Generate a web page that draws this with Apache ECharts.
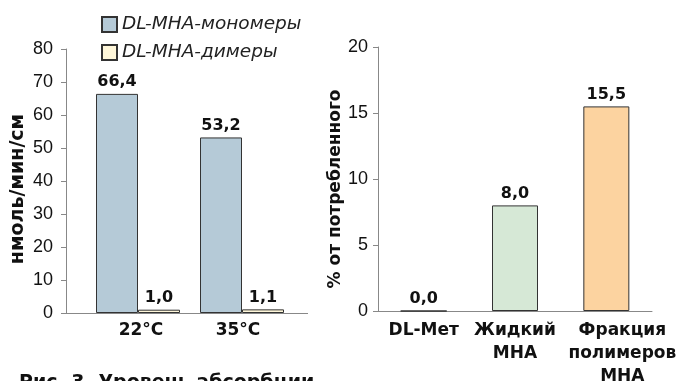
<!DOCTYPE html>
<html>
<head>
<meta charset="utf-8">
<script src="https://cdn.jsdelivr.net/npm/echarts@6/dist/echarts.min.js"></script>
<style>
html,body{margin:0;padding:0;background:#fff;}
#main{width:679px;height:381px;}
</style>
</head>
<body>
<div id="main"></div>
<script>
// левый график: абсорбция
var tempCats = ["22°C", "35°C"];
var monomerVals = [66.4, 53.2];
var dimerVals = [1.0, 1.1];
var leftTicks = [0, 80, 10];
// правый график: % от потребленного
var formCats = ["DL-Мет", "Жидкий\nМНА", "Фракция\nполимеров\nМНА"];
var formVals = [0.0, 8.0, 15.5];
var formColors = ["#d9d9d9", "#d6e8d6", "#fcd3a0"];
var rightTicks = [0, 20, 5];

window.onload = function () {
    var Mychart = echarts.init(document.getElementById("main"));
    var plain = "'Liberation Sans',Arial,sans-serif";
    var bold = "'DejaVu Sans',sans-serif";

    function fmt(p) {
        return p.value.toFixed(1).replace(".", ",");
    }
    var valLabel = {
        show: true, position: "top", distance: 4,
        formatter: fmt, fontFamily: bold, fontWeight: "bold", fontSize: 16, color: "#111"
    };
    // подписи справа немного сдвинуты вправо, как в оригинале
    var labelPad = [[0, 0, 0, 0], [0, 0, 0, 0], [0, 0, 0, 32]];
    var tempPad = [[0, 0, 0, 6], [0, 8, 0, 0]];

    var option = {
        animation: false,
        title: {
            text: "Рис. 3. Уровень абсорбции",
            left: 14, top: 369,
            textStyle: {fontFamily: bold, fontWeight: "bold", fontSize: 19, color: "#111"}
        },
        legend: {
            orient: "vertical", left: 96, top: 10,
            icon: "rect",
            itemWidth: 15, itemHeight: 15, itemGap: 9,
            textStyle: {fontFamily: "'DejaVu Sans',sans-serif", fontStyle: "italic", fontSize: 18.5, color: "#222"},
            data: ["DL-MHA-мономеры", "DL-MHA-димеры"]
        },
        grid: [
            {left: 86, width: 208, top: 49, bottom: 68, outerBoundsMode: "none"},
            {left: 378, right: 27, top: 47, bottom: 70, outerBoundsMode: "none"}
        ],
        xAxis: [
            {
                type: "category", gridIndex: 0,
                data: tempCats.map(function (c, i) {
                    return {value: c, textStyle: {padding: tempPad[i]}};
                }),
                axisLine: {show: false}, axisTick: {show: false},
                axisLabel: {fontFamily: bold, fontWeight: "bold", fontSize: 17, color: "#111", margin: 9}
            },
            {
                type: "category", gridIndex: 1,
                data: formCats.map(function (c, i) {
                    return {value: c, textStyle: {padding: labelPad[i]}};
                }),
                axisLine: {lineStyle: {color: "#888"}}, axisTick: {show: false},
                axisLabel: {fontFamily: bold, fontWeight: "bold", fontSize: 17, color: "#111", margin: 8, lineHeight: 23, interval: 0}
            }
        ],
        yAxis: [
            {
                type: "value", gridIndex: 0, min: leftTicks[0], max: leftTicks[1], interval: leftTicks[2],
                offset: 20,
                name: "нмоль/мин/см", nameLocation: "middle", nameGap: 38, nameRotate: 90,
                nameTextStyle: {fontFamily: bold, fontWeight: "bold", fontSize: 19, color: "#111", padding: [0, 16, 0, 0]},
                axisLine: {show: true, lineStyle: {color: "#888"}},
                axisTick: {show: true, length: 5, lineStyle: {color: "#888"}},
                splitLine: {show: false},
                axisLabel: {fontFamily: plain, fontSize: 18, color: "#111", margin: 13}
            },
            {
                type: "value", gridIndex: 1, min: rightTicks[0], max: rightTicks[1], interval: rightTicks[2],
                name: "% от потребленного", nameLocation: "middle", nameGap: 34, nameRotate: 90,
                nameTextStyle: {fontFamily: bold, fontWeight: "bold", fontSize: 17, color: "#111", padding: [0, 20, 0, 0]},
                axisLine: {show: true, lineStyle: {color: "#888"}},
                axisTick: {show: true, length: 5, lineStyle: {color: "#888"}},
                splitLine: {show: false},
                axisLabel: {fontFamily: plain, fontSize: 18, color: "#111", margin: 10}
            }
        ],
        graphic: [
            // ось X левого графика длиннее сетки
            {type: "line", shape: {x1: 66, y1: 313.5, x2: 308, y2: 313.5}, style: {stroke: "#888", lineWidth: 1}, z: 10}
        ],
        series: [
            {
                name: "DL-MHA-мономеры", type: "bar", xAxisIndex: 0, yAxisIndex: 0,
                data: monomerVals, barWidth: 42, barGap: "0%",
                itemStyle: {color: "#b5cad7", borderColor: "#333", borderWidth: 1},
                label: valLabel
            },
            {
                name: "DL-MHA-димеры", type: "bar", xAxisIndex: 0, yAxisIndex: 0,
                data: dimerVals, barWidth: 42, barGap: "0%",
                itemStyle: {color: "#fff7da", borderColor: "#333", borderWidth: 1},
                label: valLabel
            },
            {
                name: "forms", type: "bar", xAxisIndex: 1, yAxisIndex: 1,
                data: formVals.map(function (v, i) {
                    return {value: v, itemStyle: {color: formColors[i]}};
                }),
                barWidth: 46,
                itemStyle: {borderColor: "#333", borderWidth: 1},
                label: valLabel
            }
        ]
    };
    Mychart.setOption(option);
};
</script>
</body>
</html>
